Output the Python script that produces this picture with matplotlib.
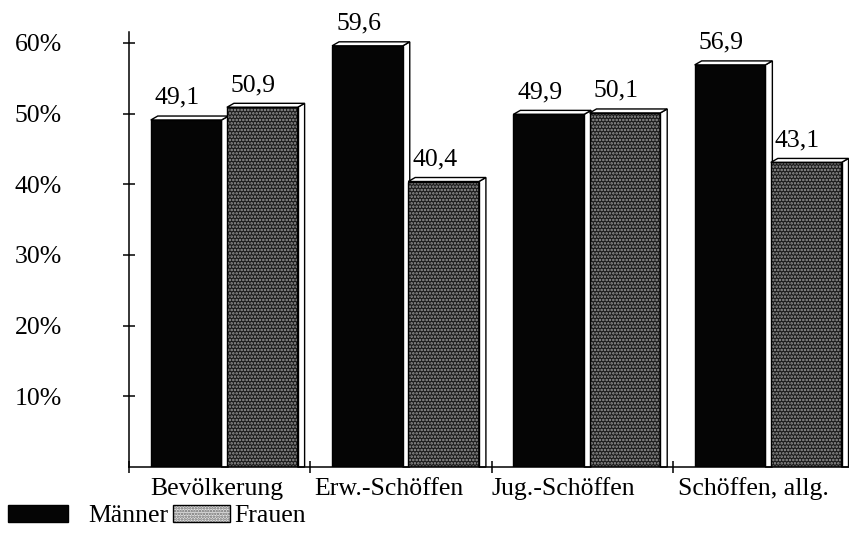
import matplotlib
matplotlib.use("Agg")
import matplotlib.pyplot as plt
from matplotlib.patches import Polygon, Rectangle

categories = ["Bevölkerung", "Erw.-Schöffen", "Jug.-Schöffen", "Schöffen, allg."]
maenner = [49.1, 59.6, 49.9, 56.9]
frauen = [50.9, 40.4, 50.1, 43.1]
value_labels_m = ["49,1", "59,6", "49,9", "56,9"]
value_labels_f = ["50,9", "40,4", "50,1", "43,1"]
yticks = [10, 20, 30, 40, 50, 60]
ytick_labels = ["10%", "20%", "30%", "40%", "50%", "60%"]
series_names = ["Männer", "Frauen"]

FONT = "Liberation Serif"
FS = 18.5
plt.rcParams["font.family"] = [FONT, "DejaVu Serif"]
plt.rcParams["hatch.linewidth"] = 1.2

W, H = 849, 534
fig = plt.figure(figsize=(W / 100, H / 100), dpi=100)
ax_left, ax_right = 129, 849
ax_bottom, ax_top = 467, 32.4
ax = fig.add_axes([ax_left / W, 1 - ax_bottom / H, (ax_right - ax_left) / W, (ax_bottom - ax_top) / H])
px_per_cat = 181.3
ax.set_xlim(0, (ax_right - ax_left) / px_per_cat)
ax.set_ylim(0, 61.5)

# 3D depth
dx = 7 / px_per_cat
dy = 4 / 7.067

m_off, f_off, bw = 0.12, 0.54, 0.39
xs = list(range(len(categories)))
xm = [x + m_off for x in xs]
xf = [x + f_off for x in xs]


def draw_bar3d(x0, h, face, hatch=None, hatchcol=None, z=2):
    ax.bar([x0], [h], width=bw, align="edge", color=face, edgecolor=hatchcol if hatch else face,
           hatch=hatch, linewidth=0, zorder=z)
    ax.bar([x0], [h], width=bw, align="edge", fill=False, edgecolor="black", linewidth=1.0, zorder=z + 0.1)
    top = Polygon([(x0, h), (x0 + bw, h), (x0 + bw + dx, h + dy), (x0 + dx, h + dy)],
                  closed=True, facecolor="white", edgecolor="black", linewidth=1.0, zorder=z, clip_on=False)
    side = Polygon([(x0 + bw, 0), (x0 + bw + dx, 0), (x0 + bw + dx, h + dy), (x0 + bw, h)],
                   closed=True, facecolor="white", edgecolor="black", linewidth=1.0, zorder=z, clip_on=False)
    ax.add_patch(side)
    ax.add_patch(top)


for i in xs:
    draw_bar3d(xm[i], maenner[i], "#050505", z=2)
    draw_bar3d(xf[i], frauen[i], "#1c1c1c", hatch=".....", hatchcol="#9a9a9a", z=3)

lab_dx = 0.022
lab_dy = 2.3
for i in xs:
    ax.text(xm[i] + lab_dx, maenner[i] + lab_dy, value_labels_m[i], ha="left", va="baseline",
            fontsize=FS, family=FONT, zorder=5, clip_on=False)
    ax.text(xf[i] + lab_dx, frauen[i] + lab_dy, value_labels_f[i], ha="left", va="baseline",
            fontsize=FS, family=FONT, zorder=5, clip_on=False)

# axes styling
for s in ["top", "right"]:
    ax.spines[s].set_visible(False)
for s in ["left", "bottom"]:
    ax.spines[s].set_linewidth(1.1)
    ax.spines[s].set_zorder(6)
ax.set_yticks(yticks)
ax.set_yticklabels(ytick_labels, fontsize=FS, family=FONT)
ax.tick_params(axis="y", direction="inout", length=9, width=1.1, pad=44)
ax.set_xticks(xs)
ax.set_xticklabels([])
ax.tick_params(axis="x", direction="inout", length=9, width=1.1)

cat_label_pos = [0.486, 1.431, 2.398, 3.442]
for lbl, xp in zip(categories, cat_label_pos):
    ax.text(xp, -3.96, lbl, ha="center", va="baseline", fontsize=FS, family=FONT, clip_on=False)

# legend (manual)
def fx(px):
    return px / W


def fy(py):
    return 1 - py / H


fig.patches.append(Rectangle((fx(8), fy(522)), fx(68) - fx(8), fy(505) - fy(522), transform=fig.transFigure,
                             facecolor="#050505", edgecolor="black", linewidth=1))
fig.text(fx(88), fy(522), series_names[0], ha="left", va="baseline", fontsize=FS, family=FONT)
fig.patches.append(Rectangle((fx(173), fy(522)), fx(230) - fx(173), fy(505) - fy(522), transform=fig.transFigure,
                             facecolor="#e2e2e2", edgecolor="#6a6a6a", hatch="......", linewidth=0))
fig.patches.append(Rectangle((fx(173), fy(522)), fx(230) - fx(173), fy(505) - fy(522), transform=fig.transFigure,
                             fill=False, edgecolor="black", linewidth=1))
fig.text(fx(234), fy(522), series_names[1], ha="left", va="baseline", fontsize=FS, family=FONT)

fig.savefig("out.png", dpi=100, facecolor="white")
